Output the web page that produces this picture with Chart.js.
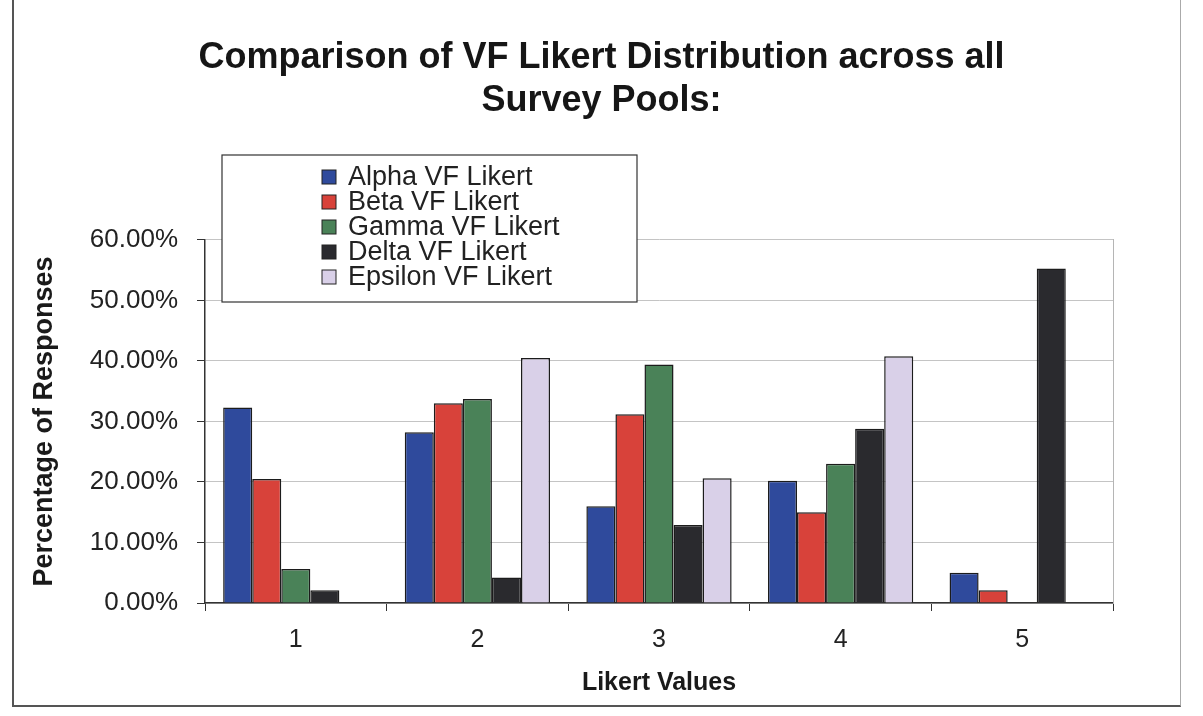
<!DOCTYPE html>
<html>
<head>
<meta charset="utf-8">
<script src="https://cdn.jsdelivr.net/npm/chart.js@4.4.1/dist/chart.umd.min.js"></script>
<style>
    html, body { margin: 0; padding: 0; background: #fff; }
    #marco {
        position: absolute; left: 12px; top: -2px; width: 1166px; height: 707px;
        border-left: 2px solid #555; border-bottom: 2px solid #555; border-right: 1px solid #aaa;
    }
    #grafica { position: absolute; left: 0; top: 0; }
</style>
</head>
<body>
<div id="marco"></div>
<canvas id="grafica" width="1203" height="716"></canvas>
<script>
const categorias = ['1', '2', '3', '4', '5'];
const alpha = [32.3, 28.2, 16.0, 20.2, 5.0];
const beta = [20.5, 33.0, 31.2, 15.0, 2.1];
const gamma = [5.6, 33.7, 39.4, 23.0, 0];
const delta = [2.1, 4.2, 12.9, 28.8, 55.3];
const epsilon = [0, 40.5, 20.6, 40.8, 0];
const etiquetas = ['Alpha VF Likert', 'Beta VF Likert', 'Gamma VF Likert', 'Delta VF Likert', 'Epsilon VF Likert'];
const colores = ['#2f4a9c', '#d8423a', '#4a8258', '#2a2a2e', '#d9d0e8'];
const tituloTexto = ['Comparison of VF Likert Distribution across all', 'Survey Pools:'];

const fuente = "'Liberation Sans', Arial, Helvetica, sans-serif";
const ctx = document.getElementById('grafica').getContext('2d');

// leyenda dibujada en un recuadro encima del area del grafico
const leyendaCaja = {
    id: 'leyendaCaja',
    afterDraw(chart) {
        const c = chart.ctx;
        const x = 222, y = 155, w = 415, h = 147;
        c.save();
        c.fillStyle = '#fff';
        c.fillRect(x, y, w, h);
        c.strokeStyle = '#333';
        c.lineWidth = 1.2;
        c.strokeRect(x, y, w, h);
        c.font = `27px ${fuente}`;
        c.textBaseline = 'middle';
        chart.data.datasets.forEach((ds, i) => {
            const cy = 177 + i * 25;
            c.fillStyle = ds.backgroundColor;
            c.fillRect(322, cy - 7, 14, 14);
            c.strokeStyle = '#222';
            c.lineWidth = 1;
            c.strokeRect(322, cy - 7, 14, 14);
            c.fillStyle = '#222';
            c.fillText(ds.label, 348, cy + 1);
        });
        c.restore();
    }
};

const series = [alpha, beta, gamma, delta, epsilon];

new Chart(ctx, {
    type: 'bar',
    data: {
        labels: categorias,
        datasets: series.map((valores, i) => ({
            label: etiquetas[i],
            data: valores,
            backgroundColor: colores[i],
            borderColor: '#1c1c1c',
            borderWidth: 1.5,
            yAxisID: 'y',
            categoryPercentage: 0.8,
            barPercentage: 1.0
        }))
    },
    options: {
        responsive: false,
        animation: false,
        layout: { padding: { left: 15, right: 15, top: 0, bottom: 0 } },
        plugins: {
            legend: { display: false },
            tooltip: { enabled: false },
            title: {
                display: true,
                text: tituloTexto,
                color: '#161616',
                font: { family: fuente, size: 36, weight: 'bold', lineHeight: 1.18 },
                padding: { top: 37, bottom: 118 }
            }
        },
        scales: {
            x: {
                grid: {
                    drawOnChartArea: false,
                    drawTicks: true,
                    tickLength: 8,
                    color: '#333'
                },
                border: { color: '#333', width: 1.5 },
                ticks: {
                    color: '#222',
                    padding: 14,
                    font: { family: fuente, size: 25 }
                },
                title: {
                    display: true,
                    text: 'Likert Values',
                    color: '#1a1a1a',
                    font: { family: fuente, size: 25, weight: 'bold' },
                    padding: { top: 0, bottom: 18 }
                },
                afterFit: (escala) => { escala.height = 113; }
            },
            y: {
                min: 0,
                max: 60,
                ticks: {
                    stepSize: 10,
                    color: '#222',
                    padding: 19,
                    font: { family: fuente, size: 26 },
                    callback: (v) => v.toFixed(2) + '%'
                },
                grid: {
                    color: '#c4c4c4',
                    lineWidth: 1,
                    tickLength: 8,
                    tickColor: '#333'
                },
                border: { color: '#333', width: 1.5 },
                title: {
                    display: true,
                    text: 'Percentage of Responses',
                    color: '#1a1a1a',
                    font: { family: fuente, size: 27, weight: 'bold' },
                    padding: { top: 13, bottom: 0 }
                },
                afterFit: (escala) => { escala.width = 190; }
            },
            yDerecha: {
                position: 'right',
                min: 0,
                max: 60,
                ticks: { display: false },
                grid: { drawOnChartArea: false, drawTicks: false },
                border: { color: '#b5b5b5', width: 1 },
                afterFit: (escala) => { escala.width = 75; }
            }
        }
    },
    plugins: [leyendaCaja]
});
</script>
</body>
</html>
